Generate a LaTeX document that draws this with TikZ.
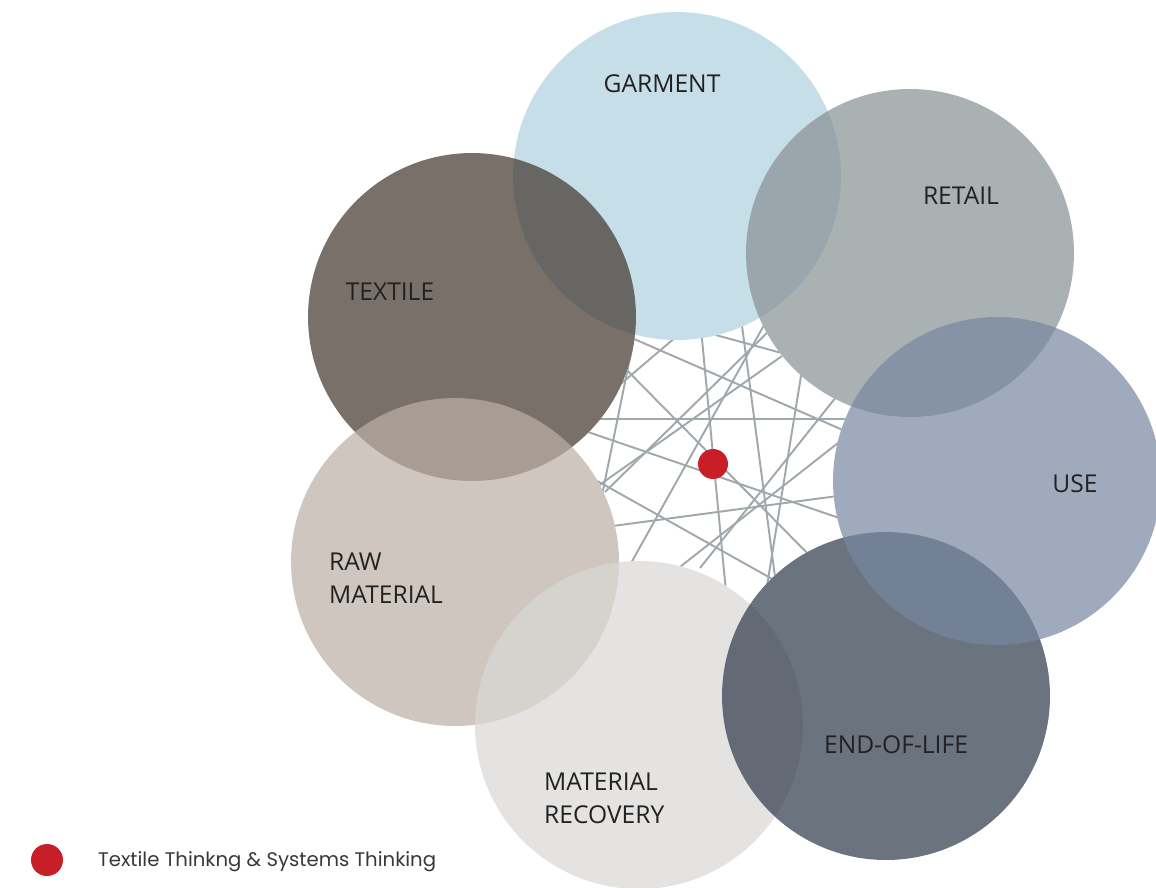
\documentclass[tikz,border=0pt]{standalone}
\usepackage{fontspec}
\setmainfont{Open Sans}
\newfontfamily\legendfont{Poppins}
\usepackage{tikz}
\usepackage{xcolor}
\definecolor{garment-blue}{RGB}{174,208,222}
\definecolor{retail-grey}{RGB}{135,144,148}
\definecolor{textile-brown}{RGB}{65,52,44}
\definecolor{use-blue}{RGB}{119,135,161}
\definecolor{raw-beige}{RGB}{188,176,165}
\definecolor{recovery-grey}{RGB}{218,216,213}
\definecolor{eol-slate}{RGB}{45,56,72}
\definecolor{web-grey}{RGB}{160,168,172}
\definecolor{dot-red}{RGB}{200,30,40}
\definecolor{label-ink}{RGB}{34,34,34}
\tikzset{
    stage-circle/.style = {circle, minimum size=6.56cm, inner sep=0pt, fill opacity=0.7},
    stage-label/.style = {text=label-ink, font=\fontsize{14}{18.7}\selectfont, align=left},
    web-line/.style = {draw=web-grey, line width=1.1pt},
}

\begin{document}
\begin{tikzpicture}[x=0.02cm, y=-0.02cm]
\useasboundingbox (0,0) rectangle (1156,887);

% tangled web in the middle
\foreach \ax/\ay/\bx/\by in {598/419/848/419, 700/318/726/592, 741/318/777/592,
    806/345/766/592, 625/335/852/434, 690/328/800/358, 768/318/626/572,
    778/322/605/492, 690/325/590/410, 605/527/845/495, 588/432/848/521,
    648/592/852/432, 848/382/700/568, 612/355/816/562, 592/478/792/590,
    632/348/600/505, 598/486/782/356}
    \draw[web-line] (\ax,\ay) -- (\bx,\by);

% white discs under the stages, so the web stays behind them
\foreach \cx/\cy in {677/176, 910/253, 472/317, 455/562, 639/725, 886/696, 997/481}
    \node[stage-circle, fill=white, fill opacity=1] at (\cx,\cy) {};

\node[stage-circle, fill=garment-blue] (garment) at (677,176) {};
\node[stage-circle, fill=retail-grey] (retail) at (910,253) {};
\node[stage-circle, fill=textile-brown] (textile) at (472,317) {};
\node[stage-circle, fill=raw-beige] (raw) at (455,562) {};
\node[stage-circle, fill=recovery-grey] (recovery) at (639,725) {};
\node[stage-circle, fill=eol-slate] (eol) at (886,696) {};
\node[stage-circle, fill=use-blue] (use) at (997,481) {};

\node[stage-label] (garment-text) at (662,84) {GARMENT};
\node[stage-label] (retail-text) at (961,196) {RETAIL};
\node[stage-label] (textile-text) at (390,292) {TEXTILE};
\node[stage-label] (use-text) at (1075,484) {USE};
\node[stage-label, anchor=west] (raw-text) at (323,578) {RAW\\MATERIAL};
\node[stage-label, anchor=west] (recovery-text) at (538,798) {MATERIAL\\RECOVERY};
\node[stage-label] (eol-text) at (896,745) {END-OF-LIFE};

\node[circle, fill=dot-red, minimum size=0.6cm, inner sep=0pt] (core) at (713,464) {};

% legend
\node[circle, fill=dot-red, minimum size=0.64cm, inner sep=0pt] (key-dot) at (47,860) {};
\node[anchor=west, text=label-ink!90, font=\legendfont\fontsize{11.2}{13}\selectfont] (key-text) at (92,862) {Textile Thinkng \& Systems Thinking};
\end{tikzpicture}
\end{document}
